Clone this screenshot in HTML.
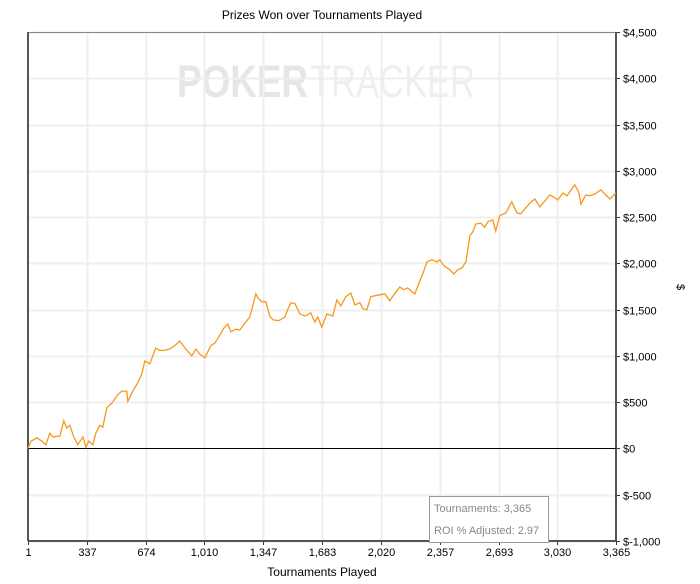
<!DOCTYPE html>
<html><head><meta charset="utf-8"><style>
body{margin:0;background:#fff;font-family:"Liberation Sans",sans-serif}
svg text{font-family:"Liberation Sans",sans-serif}
</style></head><body>
<svg id="chart" width="700" height="579">
<text x="322" y="19" font-size="12" text-anchor="middle">Prizes Won over Tournaments Played</text>
<g font-size="45">
<text x="177" y="97" fill="#e6e6e6" font-weight="bold" textLength="131" lengthAdjust="spacingAndGlyphs">POKER</text>
<text x="310" y="97" fill="#efefef" textLength="165" lengthAdjust="spacingAndGlyphs">TRACKER</text>
</g>
<g id="grid"></g>
<g id="axes"></g>
<path id="line" fill="none" stroke="#f7981d" stroke-width="1.3"/>
<g>
<rect x="429.5" y="496.5" width="119" height="46" fill="#fff" stroke="#999"/>
<text x="434" y="512" font-size="11" fill="#888">Tournaments: 3,365</text>
<text x="434" y="534" font-size="11" fill="#888">ROI % Adjusted: 2.97</text>
</g>
<text x="322" y="576" font-size="12" text-anchor="middle">Tournaments Played</text>
<text x="0" y="0" font-size="11" transform="translate(677,287) rotate(90)" text-anchor="middle">$</text>
</svg>
<script>
const xTicks=[1,337,674,1010,1347,1683,2020,2357,2693,3030,3365];
const yTicks=[-1000,-500,0,500,1000,1500,2000,2500,3000,3500,4000,4500];
const tournaments=[1,17,51,80,103,126,143,183,206,223,240,263,286,315,332,349,372,389,412,429,452,481,515,538,566,572,601,629,652,669,698,732,755,778,812,841,869,904,938,961,984,1013,1047,1070,1099,1121,1144,1161,1190,1213,1242,1270,1287,1304,1316,1339,1362,1384,1402,1436,1470,1487,1505,1528,1556,1585,1619,1642,1659,1682,1711,1745,1768,1791,1819,1848,1871,1899,1917,1940,1962,1985,2014,2042,2071,2094,2128,2151,2174,2197,2214,2243,2266,2283,2311,2340,2357,2380,2414,2437,2460,2483,2506,2529,2546,2563,2592,2614,2632,2660,2677,2700,2735,2758,2769,2798,2820,2849,2872,2901,2929,2958,2986,3015,3032,3061,3084,3112,3129,3152,3164,3192,3215,3244,3278,3301,3330,3365];
const prizes=[0,75,115,80,40,165,125,135,300,220,250,125,40,125,15,80,40,165,250,230,440,490,580,620,620,510,620,710,805,945,915,1085,1060,1060,1075,1110,1160,1075,1000,1075,1020,980,1110,1140,1225,1300,1345,1260,1290,1280,1355,1420,1540,1670,1625,1585,1585,1430,1390,1380,1420,1500,1575,1565,1455,1430,1465,1365,1420,1310,1455,1430,1605,1540,1640,1680,1550,1575,1510,1500,1640,1650,1660,1670,1595,1660,1745,1715,1735,1695,1670,1810,1920,2015,2040,2015,2040,1975,1930,1885,1930,1950,2015,2300,2340,2425,2435,2390,2450,2470,2350,2515,2545,2630,2665,2545,2535,2600,2650,2695,2610,2675,2740,2710,2685,2760,2730,2805,2850,2770,2640,2740,2730,2750,2795,2750,2695,2760,2720];
const L=28,R=616,T=32,B=541;
const xs=t=>L+(t-1)/(3365-1)*(R-L);
const ys=v=>B-(v+1000)/5500*(B-T);
const NS="http://www.w3.org/2000/svg";
function mk(tag,attrs,parent,txt){const e=document.createElementNS(NS,tag);for(const k in attrs)e.setAttribute(k,attrs[k]);if(txt!==undefined)e.textContent=txt;parent.appendChild(e);return e;}
const grid=document.getElementById('grid'),axes=document.getElementById('axes');
const fmt=v=>(v<0?'$-':'$')+Math.abs(v).toLocaleString('en-US');
xTicks.forEach(t=>{
  const x=Math.round(xs(t))+0.5;
  if(t!==1&&t!==3365){const g=mk('line',{x1:x,x2:x,y1:T,y2:B,stroke:'#efefef','stroke-width':2},grid);
  
  }
  mk('line',{x1:x,x2:x,y1:B,y2:B+4,stroke:'#333'},axes);
  const lb=mk('text',{x:x,y:B+15,'font-size':11,'text-anchor':'middle'},axes,t.toLocaleString('en-US'));
  
  
});
yTicks.forEach(v=>{
  const y=Math.round(ys(v))+0.5;
  if(v!==0){const g=mk('line',{x1:L,x2:R,y1:y,y2:y,stroke:'#efefef','stroke-width':2},grid);
  
  }
  mk('line',{x1:R,x2:R+4,y1:y,y2:y,stroke:'#333'},axes);
  const lb=mk('text',{x:R+7,y:y+4,'font-size':11},axes,fmt(v));
  
  
});
mk('rect',{x:L+0.5,y:T+0.5,width:R-L-1,height:B-T-1,fill:'none',stroke:'#888'},axes);
mk('line',{x1:L,x2:L,y1:T,y2:B,stroke:'#555','stroke-width':2},axes);
mk('line',{x1:R,x2:R,y1:T,y2:B,stroke:'#555','stroke-width':2},axes);
mk('line',{x1:L,x2:R,y1:B,y2:B,stroke:'#555','stroke-width':2},axes);
const z=mk('line',{x1:L,x2:R,y1:Math.round(ys(0))+0.5,y2:Math.round(ys(0))+0.5,stroke:'#000'},axes);


let d='';tournaments.forEach((t,i)=>{d+=(i?'L':'M')+xs(t).toFixed(1)+','+ys(prizes[i]).toFixed(1);});
document.getElementById('line').setAttribute('d',d);
</script>
</body></html>
